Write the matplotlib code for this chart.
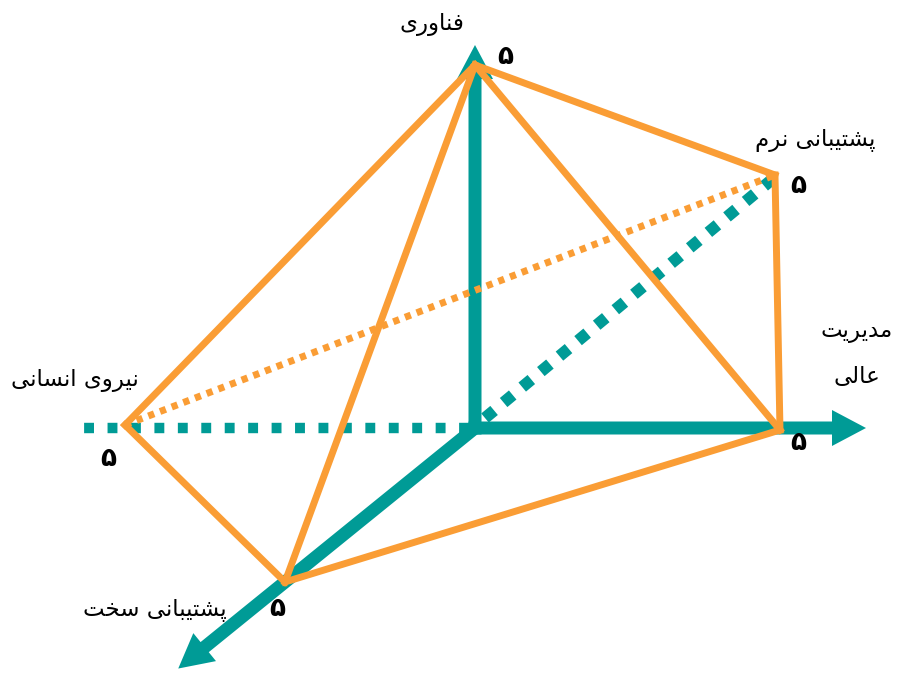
import matplotlib
matplotlib.use("Agg")
import matplotlib.pyplot as plt
from matplotlib.patches import FancyArrow
import numpy as np

# ---------------- data ----------------
axis_names = ["فناوری", "پشتیبانی نرم", "مدیریت\nعالی", "نیروی انسانی", "پشتیبانی سخت"]
axis_keys = ["tech", "soft", "mgmt", "hr", "hard"]
values = [5, 5, 5, 5, 5]
value_labels = ["۵", "۵", "۵", "۵", "۵"]

# ---------------- minimal Arabic/Persian shaping ----------------
FORMS = {
    'ا': ('\uFE8D', '\uFE8E', None, None),
    'ب': ('\uFE8F', '\uFE90', '\uFE91', '\uFE92'),
    'پ': ('\uFB56', '\uFB57', '\uFB58', '\uFB59'),
    'ت': ('\uFE95', '\uFE96', '\uFE97', '\uFE98'),
    'خ': ('\uFEA5', '\uFEA6', '\uFEA7', '\uFEA8'),
    'د': ('\uFEA9', '\uFEAA', None, None),
    'ر': ('\uFEAD', '\uFEAE', None, None),
    'س': ('\uFEB1', '\uFEB2', '\uFEB3', '\uFEB4'),
    'ش': ('\uFEB5', '\uFEB6', '\uFEB7', '\uFEB8'),
    'ع': ('\uFEC9', '\uFECA', '\uFECB', '\uFECC'),
    'ف': ('\uFED1', '\uFED2', '\uFED3', '\uFED4'),
    'ل': ('\uFEDD', '\uFEDE', '\uFEDF', '\uFEE0'),
    'م': ('\uFEE1', '\uFEE2', '\uFEE3', '\uFEE4'),
    'ن': ('\uFEE5', '\uFEE6', '\uFEE7', '\uFEE8'),
    'و': ('\uFEED', '\uFEEE', None, None),
    'ی': ('\uFBFC', '\uFBFD', '\uFBFE', '\uFBFF'),
}


def shape(text):
    lines = []
    for line in text.split("\n"):
        out = []
        n = len(line)
        for i, ch in enumerate(line):
            if ch not in FORMS:
                out.append(ch)
                continue
            prev = line[i - 1] if i > 0 else None
            nxt = line[i + 1] if i < n - 1 else None
            jp = prev in FORMS and FORMS[prev][2] is not None
            jn = FORMS[ch][2] is not None and nxt in FORMS
            iso, fin, ini, med = FORMS[ch]
            if jp and jn:
                out.append(med)
            elif jp:
                out.append(fin)
            elif jn:
                out.append(ini)
            else:
                out.append(iso)
        lines.append("".join(out)[::-1])
    return "\n".join(lines)


# ---------------- geometry (pixel-like canvas) ----------------
W, H = 898, 675
origin = np.array([475.0, 428.0])
unit = {
    "tech": np.array([0.0, -72.6]),
    "soft": np.array([60.0, -50.6]),
    "mgmt": np.array([61.0, 0.4]),
    "hr": np.array([-70.0, -0.6]),
    "hard": np.array([-38.0, 30.8]),
}
pts = {k: origin + v * unit[k] for k, v in zip(axis_keys, values)}

teal = "#009B96"
orange = "#FA9D35"

fig = plt.figure(figsize=(W / 100, H / 100), dpi=100)
ax = fig.add_axes([0, 0, 1, 1])
ax.set_xlim(0, W)
ax.set_ylim(H, 0)
ax.axis("off")

# solid axes with arrowheads
def arrow(start, end):
    d = end - start
    ax.add_patch(FancyArrow(start[0], start[1], d[0], d[1], width=13,
                            head_width=36, head_length=34,
                            length_includes_head=True, color=teal, lw=0, zorder=2))

arrow(origin + np.array([0, 6.5]), np.array([475.0, 45.0]))
arrow(origin + np.array([-6.5, 0]), np.array([866.0, 428.0]))
hd = unit["hard"] / np.linalg.norm(unit["hard"])
arrow(origin - hd * 4, origin + hd * 382)

# dotted axes
ax.plot([origin[0] - 6, 80], [origin[1], origin[1]], color=teal, lw=7.5,
        linestyle=(0, (0.95, 1.3)), solid_capstyle="butt", zorder=1)
sd = pts["soft"]
ax.plot([origin[0] + 10, sd[0]], [origin[1] - 10, sd[1] + 2], color=teal, lw=8.5,
        linestyle=(0, (1.0, 1.05)), solid_capstyle="butt", zorder=1)

# orange polyhedron edges
edges = [("hr", "tech"), ("tech", "soft"), ("soft", "mgmt"), ("mgmt", "tech"),
         ("tech", "hard"), ("hr", "hard"), ("hard", "mgmt")]
for a, b in edges:
    ax.plot([pts[a][0], pts[b][0]], [pts[a][1], pts[b][1]], color=orange, lw=5,
            solid_capstyle="projecting", solid_joinstyle="miter", zorder=3)
ax.plot([pts["hr"][0], pts["soft"][0]], [pts["hr"][1], pts["soft"][1]], color=orange,
        lw=5, linestyle=(0, (0.9, 0.9)), solid_capstyle="butt", zorder=3)

# labels
fam = ["DejaVu Sans"]
name_pos = {"tech": (432, 25), "soft": (815, 140), "mgmt": (857, 354),
            "hr": (75, 381), "hard": (155, 610)}
for k, nm in zip(axis_keys, axis_names):
    x, y = name_pos[k]
    ax.text(x, y, shape(nm), ha="center", va="center", fontsize=16.5,
            family=fam, linespacing=2.2, zorder=5)

val_pos = {"tech": (505, 57), "soft": (798, 186), "mgmt": (798, 443),
           "hr": (108, 459), "hard": (277, 609)}
for k, lab in zip(axis_keys, value_labels):
    x, y = val_pos[k]
    ax.text(x, y, lab, ha="center", va="center", fontsize=19, family=fam,
            fontweight="bold", zorder=5)

fig.savefig("out.png", dpi=100)
